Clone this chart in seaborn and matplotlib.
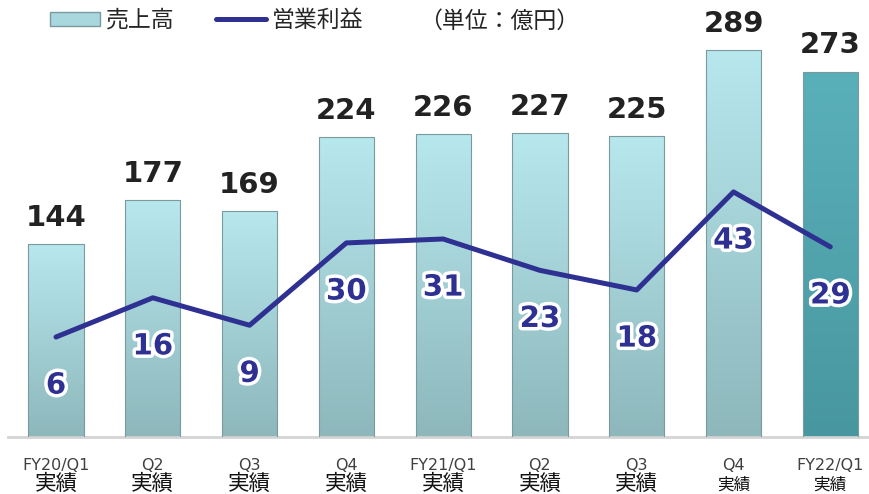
import numpy as np
import pandas as pd
import matplotlib
matplotlib.use('Agg')
import matplotlib.pyplot as plt
import matplotlib.patheffects as pe
from matplotlib.colors import LinearSegmentedColormap
from matplotlib.patches import Patch
from matplotlib.lines import Line2D
import seaborn as sns

# data
periods = ['FY20/Q1', 'Q2', 'Q3', 'Q4', 'FY21/Q1', 'Q2 ', 'Q3 ', 'Q4 ', 'FY22/Q1']
sub_labels = ['実績'] * 9
sales = [144, 177, 169, 224, 226, 227, 225, 289, 273]
op_income = [6, 16, 9, 30, 31, 23, 18, 43, 29]

df = pd.DataFrame({'period': periods, 'sales': sales, 'op': op_income})

sns.set_style('white')
plt.rcParams['font.family'] = ['Noto Sans CJK JP', 'DejaVu Sans']

fig = plt.figure(figsize=(8.69, 4.94), dpi=100)
ax = fig.add_axes([8 / 869, 1 - 437 / 494, 861 / 869, 407 / 494])

sns.barplot(data=df, x='period', y='sales', color='#9fd0d6', width=0.57,
            edgecolor='#7a9a9e', linewidth=0.8, ax=ax)

# gradient fill clipped to each bar
light = LinearSegmentedColormap.from_list('light', ['#8db7bb', '#b7e8ee'])
dark = LinearSegmentedColormap.from_list('dark', ['#4897a0', '#5ab0b9'])
grad = np.linspace(0, 1, 256).reshape(-1, 1)
for i, bar in enumerate(ax.patches):
    x0, y0 = bar.get_x(), bar.get_y()
    w, h = bar.get_width(), bar.get_height()
    cmap = dark if i == len(sales) - 1 else light
    im = ax.imshow(grad, cmap=cmap, origin='lower', aspect='auto',
                   extent=[x0, x0 + w, y0, y0 + h], zorder=2)
    im.set_clip_path(bar)
    bar.set_facecolor('none')
    bar.set_zorder(3)
    ax.text(x0 + w / 2, y0 + h + 9, f'{sales[i]}', ha='center', va='bottom',
            fontsize=21, fontweight='bold', color='#222222',
            family=['DejaVu Sans'])

ax.set_xlim(-0.496, 8.4)
ax.set_ylim(0, 304)
ax.set_xlabel('')
ax.set_ylabel('')
ax.set_yticks([])
for s in ['top', 'left', 'right']:
    ax.spines[s].set_visible(False)
ax.spines['bottom'].set_color('#d4d4d4')
ax.spines['bottom'].set_linewidth(2)

ax.set_xticks(range(len(periods)))
ax.set_xticklabels([p.strip() for p in periods], fontsize=11.5, color='#404040',
                   family=['Liberation Sans Narrow', 'DejaVu Sans'])
ax.tick_params(axis='x', length=0, pad=15)
for i, lab in enumerate(sub_labels):
    small = i >= 7
    ax.annotate(lab, xy=(i, 0), xycoords=('data', 'axes fraction'),
                xytext=(0, -34.5 if small else -34), textcoords='offset points',
                ha='center', va='center',
                fontsize=12 if small else 15.5, color='#111111')

# operating income on secondary axis
ax2 = ax.twinx()
sns.lineplot(x=np.arange(len(op_income)), y=op_income, color='#2e3192',
             linewidth=3.6, ax=ax2, solid_capstyle='round', zorder=5)
ax2.set_ylim(-19.5, 84.3)
ax2.set_yticks([])
for s in ax2.spines.values():
    s.set_visible(False)
for i, v in enumerate(op_income):
    ax2.annotate(f'{v}', xy=(i, v), xytext=(0, -35), textcoords='offset points',
                 ha='center', va='center', fontsize=21, fontweight='bold',
                 color='#2e3192', family=['DejaVu Sans'],
                 path_effects=[pe.withStroke(linewidth=5, foreground='white')])

# legend
handles = [Patch(facecolor='#a8d8de', edgecolor='#7a9a9e'),
           Line2D([0], [0], color='#2e3192', linewidth=3.6)]
fig.legend(handles, ['売上高', '営業利益'], loc='upper left',
           bbox_to_anchor=(50 / 869, 1 - 9 / 494), ncol=2, frameon=False,
           fontsize=16.5, handlelength=2.2, handleheight=0.55, handletextpad=0.25,
           columnspacing=1.8, borderpad=0, borderaxespad=0)
fig.text(419 / 869, 1 - 21 / 494, '（単位：億円）', fontsize=16.5, va='center',
         ha='left', color='#222222')

fig.savefig('out.png', dpi=100)
